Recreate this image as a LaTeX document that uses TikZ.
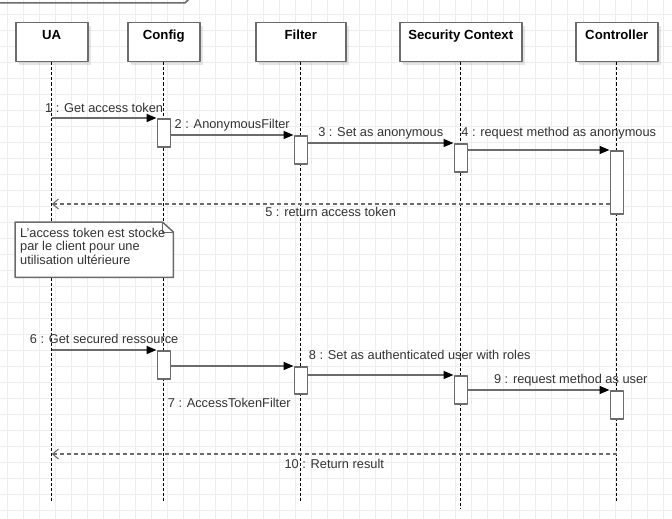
\documentclass[tikz,border=0pt]{standalone}
\usepackage{fontspec}
\setmainfont{Liberation Sans}
\usetikzlibrary{arrows.meta,positioning,calc,shadows}
\definecolor{gridgray}{HTML}{EDEDED}
\definecolor{linegray}{HTML}{6B6B6B}
\definecolor{txtgray}{HTML}{333333}
\begin{document}
\begin{tikzpicture}[x=1pt,y=-1pt,line join=round,font=\fontsize{12.8}{13.5}\selectfont,
	head/.style={draw=linegray,line width=1.5pt,fill=white,anchor=north west,text=black,
		minimum height=39pt,inner xsep=0pt,inner ysep=4pt,text height=12.6pt,text depth=18.4pt,
		font=\fontsize{13.2}{14}\selectfont\bfseries,
		drop shadow={shadow xshift=3pt,shadow yshift=-3pt,fill=black,opacity=.1}},
	act/.style={draw=linegray,line width=1.5pt,fill=white,anchor=north,minimum width=13pt,inner sep=0pt},
	life/.style={black,line width=0.9pt,dash pattern=on 3pt off 2pt},
	msg/.style={linegray,line width=1.5pt,-{Triangle[length=10pt,width=8pt,color=black]}},
	ret/.style={linegray,line width=1.5pt,dash pattern=on 4pt off 3pt,
		-{Straight Barb[length=6pt,width=10pt,line width=1pt]}},
	lab/.style={text=txtgray,inner sep=0pt,anchor=base}]
	\useasboundingbox (0,0) rectangle (672,519);
	\clip (0,0) rectangle (672,519);
	\fill[white] (0,0) rectangle (672,519);
	% grid
	\foreach \x in {7,23,...,663} \draw[gridgray,line width=0.8pt] (\x,0) -- (\x,519);
	\foreach \y in {14,30,...,510} \draw[gridgray,line width=0.8pt] (0,\y) -- (672,\y);
	\draw[linegray,line width=1.5pt] (-5,3) -- (185,3) -- (192,-4);
	% lifelines
	\node[head,minimum width=72pt] (UA) at (15,22) {UA};
	\node[head,minimum width=72pt] (Cfg) at (127,22) {Config};
	\node[head,minimum width=90pt] (Fil) at (255,22) {Filter};
	\node[head,minimum width=122pt] (Sec) at (399,22) {Security Context};
	\node[head,minimum width=82pt] (Ctl) at (575,22) {Controller};
	\foreach \n/\e in {UA/502,Cfg/502,Fil/502,Sec/508,Ctl/502}
		\draw[life] (\n.south) -- (\n |- 0,\e);
	% activations
	\node[act,minimum height=28pt] (cfg1) at (Cfg |- 0,118) {};
	\node[act,minimum height=28pt] (fil1) at (Fil |- 0,135) {};
	\node[act,minimum height=28pt] (sec1) at (Sec |- 0,143) {};
	\node[act,minimum height=63pt] (ctl1) at (Ctl |- 0,150) {};
	\node[act,minimum height=28pt] (cfg2) at (Cfg |- 0,350) {};
	\node[act,minimum height=27pt] (fil2) at (Fil |- 0,366) {};
	\node[act,minimum height=28pt] (sec2) at (Sec |- 0,375) {};
	\node[act,minimum height=28pt] (ctl2) at (Ctl |- 0,390) {};
	% anonymous call
	\draw[msg] (UA |- cfg1.north) -- node[lab,yshift=6pt] (m1) {1 : Get access token} (cfg1.north west);
	\draw[msg] (cfg1.east |- fil1.north) -- node[lab,yshift=7pt] (m2) {2 : AnonymousFilter} (fil1.north west);
	\draw[msg] (fil1.east |- sec1.north) -- node[lab,yshift=7pt] (m3) {3 : Set as anonymous} (sec1.north west);
	\draw[msg] (sec1.east |- ctl1.north) -- node[lab,xshift=20pt,yshift=14pt] (m4) {4 : request method as anonymous} (ctl1.north west);
	\draw[ret] (ctl1.west |- 0,204) -- node[lab,yshift=-12pt] (m5) {5 : return access token} (UA |- 0,204);
	% note
	\node[minimum width=158pt,minimum height=55pt,anchor=north west,inner sep=0pt] (note) at (15,222) {};
	\draw[linegray,line width=1.5pt,fill=white] (note.north west) -- ($(note.north east)+(-11,0)$)
		-- ($(note.north east)+(0,10)$) -- (note.south east) -- (note.south west) -- cycle;
	\draw[linegray,line width=0.8pt] ($(note.north east)+(-11,0)$) -- ($(note.north east)+(-11,10)$)
		-- ($(note.north east)+(0,10)$);
	\node[lab,anchor=north west,align=left] (notetext) at ($(note.north west)+(5,6)$)
		{L'access token est stocke\\par le client pour une\\utilisation ultérieure};
	% secured call
	\draw[msg] (UA |- cfg2.north) -- node[lab,yshift=7pt] (m6) {6 : Get secured ressource} (cfg2.north west);
	\draw[msg] (cfg2.east |- fil2.north) -- node[lab,xshift=-3pt,yshift=-41pt] (m7) {7 : AccessTokenFilter} (fil2.north west);
	\draw[msg] (fil2.east |- sec2.north) -- node[lab,xshift=39pt,yshift=16pt] (m8) {8 : Set as authenticated user with roles} (sec2.north west);
	\draw[msg] (sec2.east |- ctl2.north) -- node[lab,xshift=32pt,yshift=7pt] (m9) {9 : request method as user} (ctl2.north west);
	\draw[ret] (Ctl |- 0,454) -- node[lab,yshift=-14pt] (m10) {10 : Return result} (UA |- 0,454);
\end{tikzpicture}
\end{document}
